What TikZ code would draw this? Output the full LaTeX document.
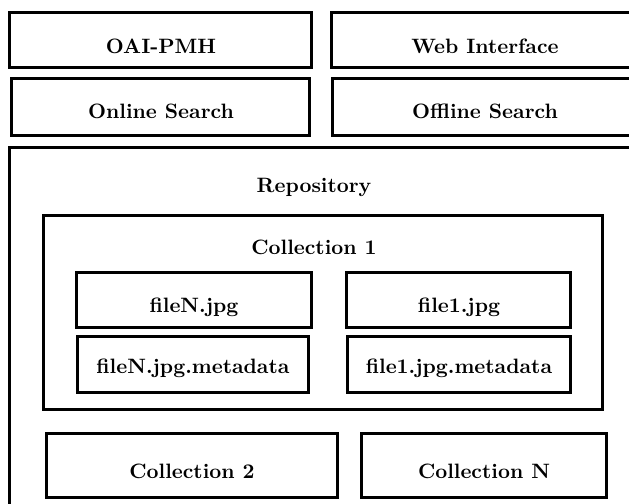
\documentclass[tikz,border=0pt]{standalone}
\usepackage{tikz}
\usetikzlibrary{positioning}
\newcommand{\px}{0.5pt}
\tikzset{layer/.style={draw=black, line width=1.5pt, rectangle, inner sep=0pt, outer sep=0pt, anchor=north west},
title/.style={font=\fontsize{10.4}{12}\selectfont\bfseries, anchor=base, inner sep=0pt}}

\begin{document}
\begin{tikzpicture}[x=\px, y=-\px]
\useasboundingbox (0,0) rectangle (629,504);
% services on top
\node[layer, minimum width=302*\px, minimum height=55*\px] (oai) at (10,12) {};
\node[layer, minimum width=306*\px, minimum height=55*\px] (web) at (332,12) {};
\node[layer, minimum width=298*\px, minimum height=57*\px] (online) at (12,78) {};
\node[layer, minimum width=305*\px, minimum height=57*\px] (offline) at (333,78) {};
\node[title] (oaitext) at (161,53) {OAI-PMH};
\node[title] (webtext) at (485,53) {Web Interface};
\node[title] (onlinetext) at (161,118) {Online Search};
\node[title] (offlinetext) at (485,118) {Offline Search};
% repository
\node[layer, minimum width=650*\px, minimum height=390*\px] (repo) at (10,147) {};
\node[title] (repotext) at (314,192) {Repository};
\node[layer, minimum width=559*\px, minimum height=194*\px] (coll1) at (44,215) {};
\node[title] (coll1text) at (314,254) {Collection 1};
\node[layer, minimum width=235*\px, minimum height=55*\px] (fileN) at (77,272) {};
\node[layer, minimum width=224*\px, minimum height=55*\px] (file1) at (347,272) {};
\node[layer, minimum width=231*\px, minimum height=56*\px] (fileNmeta) at (78,336) {};
\node[layer, minimum width=223*\px, minimum height=56*\px] (file1meta) at (348,336) {};
\node[title] (fileNtext) at (194,312) {fileN.jpg};
\node[title] (file1text) at (459,312) {file1.jpg};
\node[title] (fileNmetatext) at (193,373) {fileN.jpg.metadata};
\node[title] (file1metatext) at (459,373) {file1.jpg.metadata};
\node[layer, minimum width=291*\px, minimum height=64*\px] (coll2) at (47,433) {};
\node[layer, minimum width=245*\px, minimum height=64*\px] (collN) at (362,433) {};
\node[title] (coll2text) at (192,478) {Collection 2};
\node[title] (collNtext) at (484,478) {Collection N};
\end{tikzpicture}
\end{document}
